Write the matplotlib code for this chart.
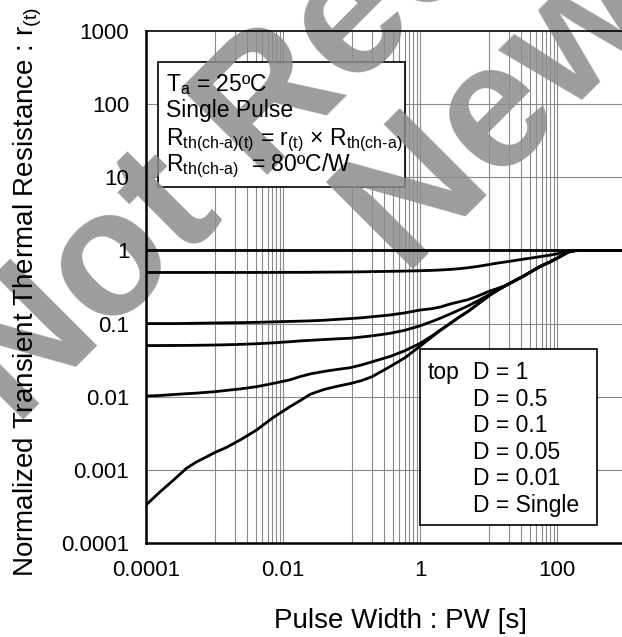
import numpy as np
import matplotlib.pyplot as plt
from matplotlib.patches import Rectangle

plt.rcParams['font.family'] = ['Liberation Sans', 'DejaVu Sans']
plt.rcParams['mathtext.fontset'] = 'custom'
plt.rcParams['mathtext.rm'] = 'Liberation Sans'
plt.rcParams['mathtext.it'] = 'Liberation Sans'
plt.rcParams['mathtext.default'] = 'regular'

# pulse width [s]
pw = [1e-4, 1.6e-4, 2.5e-4, 3.9e-4, 5.5e-4, 7.7e-4, 1e-3, 1.5e-3, 2.4e-3, 4.1e-3,
      7.2e-3, 0.0126, 0.018, 0.025, 0.04, 0.06, 0.095, 0.14, 0.2, 0.365,
      0.6, 1, 1.5, 1.96, 2.74, 3.7, 5, 7, 10.5, 14,
      18.5, 31.6, 56, 80, 105, 123, 140, 155, 180, 220, 1000]

# common part once the short-duty curves have merged (18.5 s and up)
r_tail = [0.337, 0.44, 0.6, 0.7, 0.8, 0.87, 0.93, 0.97, 0.99, 1.0, 1.0]

r_d1 = [1.0] * 41
r_d05 = [0.5, 0.5, 0.5, 0.5, 0.5, 0.5, 0.5, 0.5, 0.5, 0.5,
         0.501, 0.502, 0.502, 0.503, 0.505, 0.506, 0.508, 0.51, 0.513, 0.518,
         0.522, 0.528, 0.534, 0.54, 0.55, 0.562, 0.58, 0.605, 0.645, 0.675,
         0.7, 0.757, 0.82, 0.865, 0.905, 0.94, 0.97, 0.99, 1.0, 1.0, 1.0]
r_d01 = [0.1, 0.1, 0.1, 0.1005, 0.101, 0.1015, 0.102, 0.1025, 0.103, 0.104,
         0.1055, 0.107, 0.108, 0.109, 0.111, 0.114, 0.117, 0.12, 0.124, 0.131,
         0.14, 0.153, 0.16, 0.168, 0.185, 0.198, 0.212, 0.238, 0.279, 0.305] + r_tail
r_d005 = [0.05, 0.0501, 0.0502, 0.0503, 0.0505, 0.0507, 0.0509, 0.0513, 0.052, 0.053,
          0.0545, 0.0565, 0.058, 0.059, 0.0605, 0.0618, 0.063, 0.0655, 0.068, 0.0735,
          0.081, 0.093, 0.107, 0.118, 0.135, 0.153, 0.174, 0.205, 0.252, 0.295] + r_tail
r_d001 = [0.0102, 0.0104, 0.0107, 0.011, 0.0112, 0.0115, 0.0117, 0.0122, 0.0128, 0.0137,
          0.0152, 0.017, 0.0189, 0.0205, 0.0222, 0.0235, 0.0249, 0.0272, 0.030, 0.0355,
          0.0425, 0.0536, 0.068, 0.081, 0.1, 0.122, 0.146, 0.185, 0.245, 0.29] + r_tail
r_single = [3.3e-4, 5.0e-4, 7.2e-4, 1.05e-3, 1.29e-3, 1.51e-3, 1.72e-3, 2.03e-3, 2.58e-3, 3.5e-3,
            5.2e-3, 7.3e-3, 8.9e-3, 0.0108, 0.0126, 0.0138, 0.0151, 0.0166, 0.0188, 0.0258,
            0.034, 0.049, 0.066, 0.08, 0.1, 0.122, 0.146, 0.185, 0.245, 0.29] + r_tail

xticks = [1e-4, 1e-2, 1, 1e2]
xticklabels = ['0.0001', '0.01', '1', '100']
yticks = [1e-4, 1e-3, 1e-2, 1e-1, 1, 10, 100, 1000]
yticklabels = ['0.0001', '0.001', '0.01', '0.1', '1', '10', '100', '1000']
grid_decades = [1e-3, 1e-1, 10]

legend_lines = ['D = 1', 'D = 0.5', 'D = 0.1', 'D = 0.05', 'D = 0.01', 'D = Single']
info_lines = ['T$_{a}$ = 25ºC',
              'Single Pulse',
              'R$_{th(ch\u2010a)(t)}$ = r$_{(t)}$ × R$_{th(ch\u2010a)}$',
              'R$_{th(ch\u2010a)}$  = 80ºC/W']

W, H = 622, 637
fig = plt.figure(figsize=(W / 100, H / 100), dpi=100)
L, R, T, B = 146, 625.5, 31, 543
ax = fig.add_axes([L / W, 1 - B / H, (R - L) / W, (B - T) / H])

ax.set_xscale('log')
ax.set_yscale('log')
ax.set_xlim(1e-4, 1e3)
ax.set_ylim(1e-4, 1e3)

# grid: decades horizontally, alternate decades with minor lines vertically
vx = [k * d for d in grid_decades for k in range(1, 11)]
ax.vlines(vx, 1e-4, 1e3, colors='#8a8a8a', linewidth=0.8, zorder=0.5)
ax.hlines(yticks[1:-1], 1e-4, 1e3, colors='#8a8a8a', linewidth=0.8, zorder=0.5)

for r in [r_d1, r_d05, r_d01, r_d005, r_d001, r_single]:
    ax.plot(pw, r, color='black', linewidth=2.0, zorder=2)

ax.set_xticks(xticks)
ax.set_xticklabels(xticklabels)
ax.set_yticks(yticks)
ax.set_yticklabels(yticklabels)
ax.minorticks_off()
ax.tick_params(axis='both', length=0, labelsize=16, pad=12)

ax.set_xlabel('Pulse Width : PW [s]', fontsize=20)
ax.xaxis.set_label_coords((400 - L) / (R - L), (B - 621) / (B - T))
ax.set_ylabel('Normalized Transient Thermal Resistance : r$_{(t)}$', fontsize=20)
ax.yaxis.set_label_coords((28 - L) / (R - L), (B - 292) / (B - T))
ax.xaxis.label.set_va('center')
ax.yaxis.label.set_va('center')

for s in ['left', 'bottom']:
    ax.spines[s].set_linewidth(1.8)
ax.spines['top'].set_linewidth(1.2)
ax.spines['right'].set_visible(False)


def axc(px, py):
    return (px - L) / (R - L), (B - py) / (B - T)


# info box top-left
x0, y0 = axc(158, 187)
x1, y1 = axc(405, 62)
ax.add_patch(Rectangle((x0, y0), x1 - x0, y1 - y0, transform=ax.transAxes,
                       facecolor='white', edgecolor='black', linewidth=1.2, zorder=1.0))
for txt, by in zip(info_lines, [91, 117, 145, 171]):
    tx, ty = axc(166, by)
    ax.text(tx, ty, txt, transform=ax.transAxes, fontsize=16.5, ha='left', va='baseline', zorder=5)

# legend box bottom-right
x0, y0 = axc(420, 525)
x1, y1 = axc(597, 349)
ax.add_patch(Rectangle((x0, y0), x1 - x0, y1 - y0, transform=ax.transAxes,
                       facecolor='white', edgecolor='black', linewidth=1.2, zorder=1.0))
tx, ty = axc(428, 379)
ax.text(tx, ty, 'top', transform=ax.transAxes, fontsize=16.5, ha='left', va='baseline', zorder=5)
for i, txt in enumerate(legend_lines):
    tx, ty = axc(473, 379 + i * 26.6)
    ax.text(tx, ty, txt, transform=ax.transAxes, fontsize=16.5, ha='left', va='baseline', zorder=5)

# watermark
for txt, (px, py) in [('Not Recommended', (16, 428)), ('New Design', (405, 277))]:
    ax.text(px / W, 1 - py / H, txt, transform=fig.transFigure, fontsize=128,
            fontweight='bold', color='#8c8c8c', alpha=0.85, rotation=45,
            rotation_mode='anchor', ha='left', va='baseline', zorder=1.2, clip_on=False)

fig.savefig('out.png', dpi=100)
